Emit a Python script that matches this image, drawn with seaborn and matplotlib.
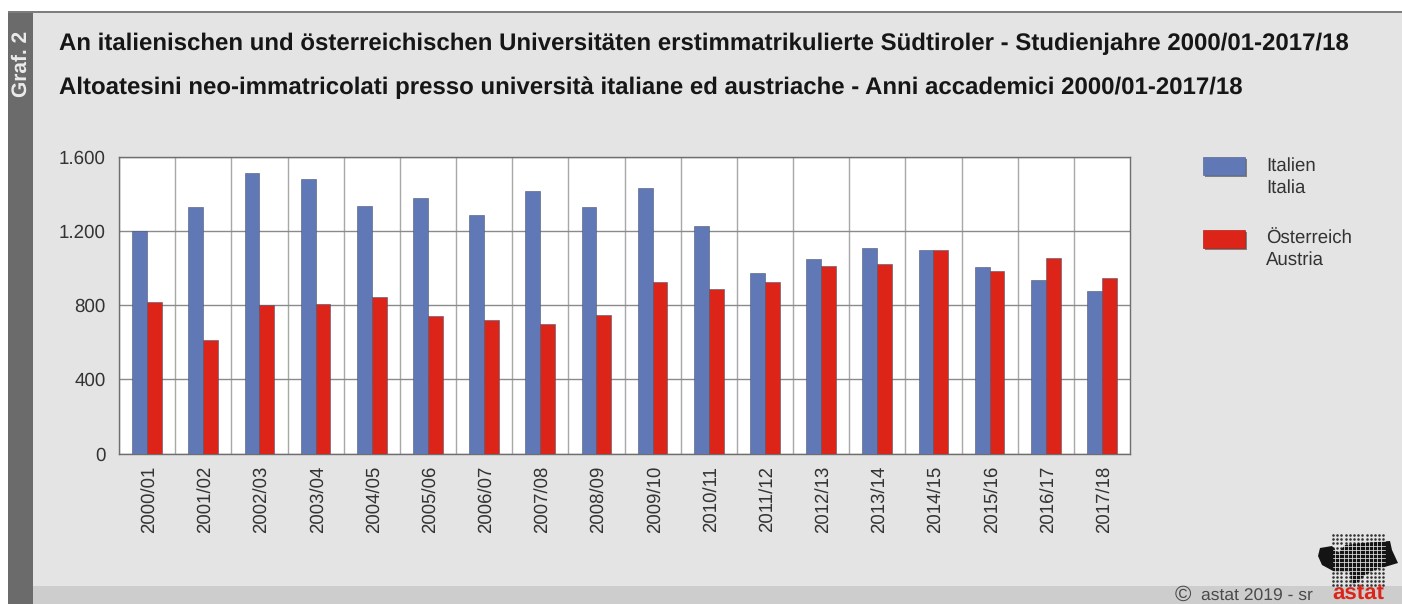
import numpy as np
import pandas as pd
import matplotlib
matplotlib.use("Agg")
import matplotlib.pyplot as plt
import matplotlib.patheffects as pe
from matplotlib.patches import Rectangle, Patch, Polygon
from matplotlib.transforms import ScaledTranslation
import seaborn as sns

years = ["2000/01", "2001/02", "2002/03", "2003/04", "2004/05", "2005/06", "2006/07", "2007/08", "2008/09",
         "2009/10", "2010/11", "2011/12", "2012/13", "2013/14", "2014/15", "2015/16", "2016/17", "2017/18"]
italien = [1200, 1330, 1513, 1480, 1335, 1378, 1285, 1415, 1330, 1432, 1227, 973, 1048, 1108, 1097, 1005, 935, 875]
oesterreich = [820, 615, 800, 805, 843, 740, 720, 700, 750, 925, 887, 925, 1011, 1022, 1097, 984, 1055, 946]
series_names = ["Italien\nItalia", "Österreich\nAustria"]
y_ticks = [0, 400, 800, 1200, 1600]
y_labels = ["0", "400", "800", "1.200", "1.600"]
title_de = "An italienischen und österreichischen Universitäten erstimmatrikulierte Südtiroler - Studienjahre 2000/01-2017/18"
title_it = "Altoatesini neo-immatricolati presso università italiane ed austriache - Anni accademici 2000/01-2017/18"

BLUE = "#6079b6"
RED = "#dd2418"
PANEL = "#e4e4e4"
W, H = 1402, 604

sns.set_theme(style="white")
plt.rcParams["font.family"] = ["Liberation Sans", "DejaVu Sans"]
plt.rcParams["text.hinting"] = "none"

df = pd.DataFrame({"year": years * 2,
                   "value": italien + oesterreich,
                   "country": [series_names[0]] * len(years) + [series_names[1]] * len(years)})

fig = plt.figure(figsize=(W / 100, H / 100), dpi=100, facecolor="white")

# background panel, drawn in pixel coordinates
bg = fig.add_axes([0, 0, 1, 1], zorder=0)
bg.set_xlim(0, W)
bg.set_ylim(H, 0)
bg.axis("off")
bg.add_patch(Rectangle((8, 12), W - 8, H - 12, color=PANEL, lw=0))
bg.add_patch(Rectangle((33, 586), W - 33, 18, color="#cdcdcd", lw=0))
bg.add_patch(Rectangle((8, 12), 25, H - 12, color="#6b6b6b", lw=0))
bg.add_patch(Rectangle((8, 11), W - 8, 2, color="#7d7d7d", lw=0))
bg.text(21, 64, "Graf. 2", rotation=90, ha="center", va="center", color="#ececec", fontsize=15, fontweight="bold")
bg.text(59, 44, title_de, ha="left", va="center", color="#161616", fontsize=17.3, fontweight="bold")
bg.text(59, 88, title_it, ha="left", va="center", color="#161616", fontsize=17.3, fontweight="bold")

# footer and logo
bg.text(1183, 595, "©", ha="center", va="center", color="#4a4a4a", fontsize=16)
bg.text(1201, 596, "astat 2019 - sr", ha="left", va="center", color="#4a4a4a", fontsize=12.6)
bg.text(1358, 599, "astat", ha="center", va="baseline", color=RED, fontsize=16, fontweight="bold")
dot_x = np.arange(1333, 1385, 4.2)
dot_y = np.arange(535, 586, 4.2)
gx, gy = np.meshgrid(dot_x, dot_y)
bg.scatter(gx.ravel(), gy.ravel(), s=3.5, color="#333333", lw=0)
blob = Polygon([(1320, 548), (1332, 546), (1338, 553), (1345, 545), (1362, 543), (1390, 541), (1392, 550),
                (1398, 563), (1388, 566), (1375, 570), (1365, 575), (1358, 582), (1352, 585), (1350, 572),
                (1335, 572), (1322, 565), (1318, 556)], color="#141414", lw=0)
bg.add_patch(blob)
for x0 in dot_x[:-1] + 2.1:
    bg.plot([x0, x0], [540, 586], color=PANEL, lw=0.7, alpha=0.8)
for y0 in dot_y[:-1] + 2.1:
    bg.plot([1333, 1385], [y0, y0], color=PANEL, lw=0.7, alpha=0.8)

ax = fig.add_axes([119 / W, 1 - 453.5 / H, (1130 - 119) / W, 296.5 / H], zorder=1)
sns.barplot(data=df, x="year", y="value", hue="country", palette=[BLUE, RED], width=0.53, gap=0, saturation=1,
            edgecolor="#4a5672", linewidth=0.4, zorder=3, legend=False, ax=ax)
ax.set_facecolor("white")
ax.set_xlim(-0.5, len(years) - 0.5)
ax.set_ylim(0, 1600)
ax.set_xlabel("")
ax.set_ylabel("")
ax.set_yticks(y_ticks, y_labels)
ax.set_xticks(np.arange(len(years)), years, rotation=90)
ax.set_xticks(np.arange(len(years)) - 0.5, minor=True)
ax.grid(True, which="minor", axis="x", color="#a8a8a8", lw=1, zorder=0)
ax.grid(True, which="major", axis="y", color="#8a8a8a", lw=1, zorder=1)
ax.set_axisbelow(True)
ax.tick_params(axis="x", which="major", length=0, pad=9, labelsize=13.4, labelcolor="#333333")
ax.tick_params(axis="x", which="minor", length=0)
ax.tick_params(axis="y", length=0, pad=9.5, labelsize=13.5, labelcolor="#333333")
# year labels sit a little right of the bar centre
for lab in ax.get_xticklabels():
    lab.set_transform(lab.get_transform() + ScaledTranslation(2 / 100, 0, fig.dpi_scale_trans))
for spine in ax.spines.values():
    spine.set_color("#6e6e6e")
    spine.set_linewidth(1)

shadow = [pe.SimplePatchShadow(offset=(1.5, -1.5), shadow_rgbFace="#555555", alpha=0.7), pe.Normal()]
handles = [Patch(facecolor=BLUE, edgecolor="#5a6a90", lw=0.5, path_effects=shadow),
           Patch(facecolor=RED, edgecolor="#b02018", lw=0.5, path_effects=shadow)]
leg = fig.legend(handles, series_names, loc="upper left", bbox_to_anchor=(1203 / W, 1 - 157 / H),
                 frameon=False, fontsize=13.4, labelcolor="#333333", handlelength=2.25, handleheight=1.13,
                 handletextpad=1.13, labelspacing=1.78, borderpad=0, borderaxespad=0)
for t in leg.get_texts():
    t.set_linespacing(1.3)
# swatches sit level with the first line of the label
for h in leg.legend_handles:
    h.set_y(h.get_y() + 8)

fig.savefig("out.png", dpi=100, facecolor=fig.get_facecolor())
